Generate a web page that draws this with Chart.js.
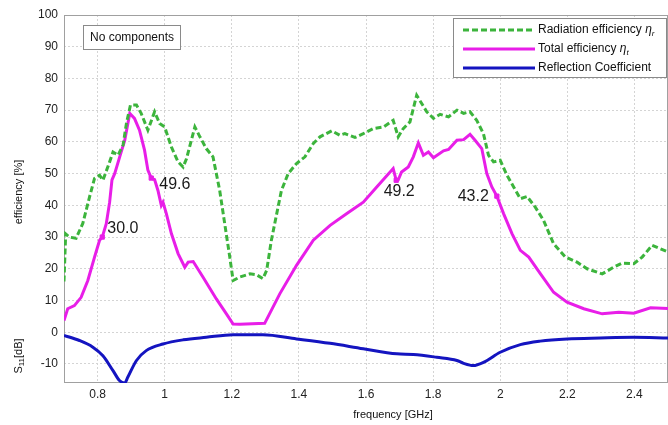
<!DOCTYPE html>
<html><head><meta charset="utf-8">
<script src="https://cdn.jsdelivr.net/npm/chart.js@4.4.0/dist/chart.umd.min.js"></script>
<style>html,body{margin:0;padding:0;background:#fff}canvas{display:block}</style>
</head><body>
<canvas id="c" width="668" height="425" style="width:668px;height:425px"></canvas>
<script>
// ---- data ----
const radFreq = [0.700,0.705,0.716,0.736,0.756,0.776,0.791,0.806,0.816,0.836,0.846,0.861,0.876,0.886,0.898,0.916,0.930,0.950,0.970,0.985,1.000,1.020,1.040,1.055,1.065,1.090,1.105,1.124,1.144,1.164,1.179,1.194,1.204,1.224,1.254,1.274,1.293,1.304,1.318,1.334,1.348,1.368,1.393,1.418,1.443,1.463,1.498,1.522,1.537,1.567,1.592,1.622,1.652,1.681,1.696,1.711,1.731,1.751,1.766,1.781,1.801,1.821,1.846,1.871,1.891,1.910,1.930,1.950,1.965,1.980,2.000,2.020,2.040,2.060,2.080,2.104,2.129,2.159,2.194,2.229,2.259,2.304,2.338,2.363,2.398,2.423,2.453,2.500];
const radEff  = [16,31,30,29.6,34.3,42.6,48.5,49.5,47.9,53.7,56.8,55.8,59,65.8,71.6,71.6,69,63.7,69.5,65.8,64.7,58.4,53.7,52.1,54.7,64.7,61.6,57.9,55.3,44.7,34.2,23.7,16.3,17.4,18.4,18.1,16.9,19.5,29,37.4,44.7,50,53.2,55.3,59.5,61.6,63.5,62.1,62.6,61.4,62.6,64.2,64.7,66.8,61.6,64.2,66.3,74.7,72.1,69.5,67.4,68.7,67.9,70,69,69.5,66.8,62.6,55.8,53.7,54.2,49.5,45.8,42.1,42.8,39.5,35.3,27.9,23.7,22.1,20,18.4,20.5,21.8,21.6,23.7,27.4,25.3];

const totFreq = [0.700,0.711,0.731,0.751,0.771,0.791,0.806,0.814,0.826,0.836,0.843,0.851,0.866,0.881,0.896,0.910,0.925,0.940,0.950,0.960,0.970,0.980,0.990,0.995,1.005,1.020,1.040,1.060,1.070,1.085,1.114,1.154,1.184,1.204,1.224,1.298,1.343,1.393,1.443,1.493,1.543,1.592,1.632,1.681,1.690,1.696,1.706,1.726,1.741,1.756,1.771,1.786,1.801,1.831,1.846,1.871,1.891,1.910,1.925,1.945,1.960,1.975,1.990,2.010,2.035,2.060,2.085,2.120,2.159,2.199,2.249,2.304,2.353,2.398,2.448,2.500];
const totEff  = [3.7,7.4,8.4,11,16.3,23.7,29,30,34.2,41,48,50,55.3,60.5,69,67.4,63.7,57.4,51.1,48.6,48.1,44.7,40,41,37.4,31.1,24.8,20.5,22.1,22.3,17.4,10.5,5.8,2.6,2.5,2.8,12.1,21.1,29,33.7,37.4,41,45.8,51.6,47.9,48,50.5,52.1,55.3,59.7,55.8,56.8,55,57.2,57.6,60.5,60.7,62.4,60.5,57.9,50,45.8,42.9,37.4,31.1,25.8,23.7,18.4,12.6,9.5,7.4,5.8,6.3,6,7.7,7.5];

const s11Freq = [0.700,0.746,0.786,0.816,0.846,0.866,0.881,0.890,0.916,0.945,0.995,1.055,1.124,1.204,1.293,1.393,1.493,1.592,1.692,1.741,1.811,1.871,1.891,1.920,1.950,2.000,2.060,2.119,2.199,2.298,2.398,2.500];
const s11dB   = [-1.0,-2.6,-4.7,-7.4,-12.1,-15.3,-16,-14.2,-8.9,-5.8,-3.7,-2.4,-1.6,-0.8,-0.8,-2.1,-3.5,-5.2,-6.8,-7.0,-7.9,-8.9,-9.8,-10.5,-9.5,-6.3,-3.9,-2.8,-2.1,-1.8,-1.6,-1.8];

const markerFreq  = [0.814,0.960,1.690,1.990];
const markerVal   = [30.0,48.6,47.9,42.9];
const markerLabel = ['30.0','49.6','49.2','43.2'];

const xTickValues = [0.8,1.0,1.2,1.4,1.6,1.8,2.0,2.2,2.4];
const yTickValues = [-10,0,10,20,30,40,50,60,70,80,90,100];

const seriesNames = ['Radiation efficiency ', 'Total efficiency ', 'Reflection Coefficient'];
const seriesSubs  = ['r', 't', ''];
const boxText = 'No components';

// ---- styling ----
const FONT = '"Liberation Sans", Arial, Helvetica, sans-serif';
const GREEN = '#3cb43c', MAGENTA = '#e81ee8', BLUE = '#1414c0';
const labelPlace = [
  {align:'left',  dx:5,  dy:-8},
  {align:'left',  dx:8,  dy:7},
  {align:'center',dx:3,  dy:11},
  {align:'right', dx:-8, dy:0}
];

const zip = (xs, ys) => xs.map((x, i) => ({x, y: ys[i]}));

function drawParts(ctx, parts, x, y, align) {
  let w = 0;
  parts.forEach(p => { ctx.font = p.font; p.w = ctx.measureText(p.t).width; w += p.w; });
  let cx = align === 'center' ? x - w / 2 : x;
  parts.forEach(p => { ctx.font = p.font; ctx.fillText(p.t, cx, y + (p.dy || 0)); cx += p.w; });
}

const overlay = {
  id: 'overlay',
  beforeDatasetsDraw(chart) {
    const {ctx, chartArea: a} = chart;
    ctx.save();
    ctx.strokeStyle = '#a0a0a0';
    ctx.lineWidth = 1;
    ctx.strokeRect(a.left + 0.5, a.top + 0.5, a.right - a.left - 1, a.bottom - a.top - 1);
    ctx.restore();
  },
  afterDraw(chart) {
    const {ctx, scales: {x, y}} = chart;
    ctx.save();
    // value labels next to markers
    ctx.fillStyle = '#1a1a1a';
    ctx.font = '16px ' + FONT;
    ctx.textBaseline = 'middle';
    markerLabel.forEach((t, i) => {
      const p = labelPlace[i];
      ctx.textAlign = p.align;
      ctx.fillText(t, x.getPixelForValue(markerFreq[i]) + p.dx, y.getPixelForValue(markerVal[i]) + p.dy);
    });
    // "No components" box
    ctx.fillStyle = '#fff';
    ctx.fillRect(83, 25, 98, 25);
    ctx.strokeStyle = '#8a8a8a';
    ctx.lineWidth = 1;
    ctx.strokeRect(83.5, 25.5, 97, 24);
    ctx.fillStyle = '#111';
    ctx.font = '12px ' + FONT;
    ctx.textAlign = 'center';
    ctx.fillText(boxText, 132, 38);
    // legend
    ctx.fillStyle = '#fff';
    ctx.fillRect(453, 18, 214, 60);
    ctx.strokeStyle = '#8a8a8a';
    ctx.strokeRect(453.5, 18.5, 213, 59);
    const cols = [GREEN, MAGENTA, BLUE];
    const dashes = [[6, 3], [], []];
    const ys = [30, 49, 68];
    ctx.textAlign = 'left';
    for (let i = 0; i < 3; i++) {
      ctx.beginPath();
      ctx.setLineDash(dashes[i]);
      ctx.strokeStyle = cols[i];
      ctx.lineWidth = 3;
      ctx.moveTo(463, ys[i]); ctx.lineTo(535, ys[i]);
      ctx.stroke();
      ctx.setLineDash([]);
      ctx.fillStyle = '#111';
      const parts = [{t: seriesNames[i], font: '12px ' + FONT}];
      if (seriesSubs[i]) {
        parts.push({t: '\u03B7', font: 'italic 12px ' + FONT});
        parts.push({t: seriesSubs[i], font: 'italic 8px ' + FONT, dy: 4});
      }
      drawParts(ctx, parts, 538, ys[i], 'left');
    }
    // axis titles
    ctx.fillStyle = '#111';
    ctx.textAlign = 'center';
    ctx.font = '11px ' + FONT;
    ctx.fillText('frequency [GHz]', 393, 415);
    ctx.save();
    ctx.translate(19, 192);
    ctx.rotate(-Math.PI / 2);
    ctx.textAlign = 'left';
    drawParts(ctx, [{t: 'efficiency [%]', font: '11px ' + FONT}], 0, 0, 'center');
    ctx.restore();
    ctx.save();
    ctx.translate(19, 356);
    ctx.rotate(-Math.PI / 2);
    ctx.textAlign = 'left';
    drawParts(ctx, [{t: 'S', font: '11px ' + FONT}, {t: '11', font: '8px ' + FONT, dy: 3}, {t: '[dB]', font: '11px ' + FONT}], 0, 0, 'center');
    ctx.restore();
    ctx.restore();
  }
};

const gridStyle = {color: '#d4d4d4', lineWidth: 1, drawTicks: false};

new Chart(document.getElementById('c'), {
  type: 'line',
  data: {
    datasets: [
      {label: 'Radiation efficiency', data: zip(radFreq, radEff), borderColor: GREEN, borderWidth: 3, borderDash: [6, 3], pointRadius: 0, tension: 0, fill: false},
      {label: 'Markers', data: zip(markerFreq, markerVal), showLine: false, pointStyle: 'rect', pointRadius: 3, pointBackgroundColor: MAGENTA, pointBorderColor: MAGENTA, borderColor: MAGENTA},
      {label: 'Total efficiency', data: zip(totFreq, totEff), borderColor: MAGENTA, borderWidth: 3, pointRadius: 0, tension: 0, fill: false},
      {label: 'Reflection Coefficient', data: zip(s11Freq, s11dB), borderColor: BLUE, borderWidth: 3, pointRadius: 0, cubicInterpolationMode: 'monotone', fill: false}
    ]
  },
  options: {
    responsive: false,
    animation: false,
    events: [],
    layout: {autoPadding: false, padding: {top: 15, left: 0, right: 0, bottom: 0}},
    scales: {
      x: {
        type: 'linear', min: 0.7, max: 2.5,
        grid: gridStyle,
        border: {display: false, dash: [2, 2]},
        afterBuildTicks: s => { s.ticks = xTickValues.map(v => ({value: v})); },
        afterFit: s => { s.height = 42; },
        ticks: {padding: 4, color: '#222', font: {family: FONT, size: 12}, maxRotation: 0,
          callback: v => String(+(+v).toFixed(1))}
      },
      y: {
        min: -16, max: 100,
        grid: gridStyle,
        border: {display: false, dash: [2, 2]},
        afterBuildTicks: s => { s.ticks = yTickValues.map(v => ({value: v})); },
        afterFit: s => { s.width = 64; },
        ticks: {padding: 6, color: '#222', font: {family: FONT, size: 12}}
      }
    },
    plugins: {legend: {display: false}, tooltip: {enabled: false}}
  },
  plugins: [overlay]
});
</script>
</body></html>
